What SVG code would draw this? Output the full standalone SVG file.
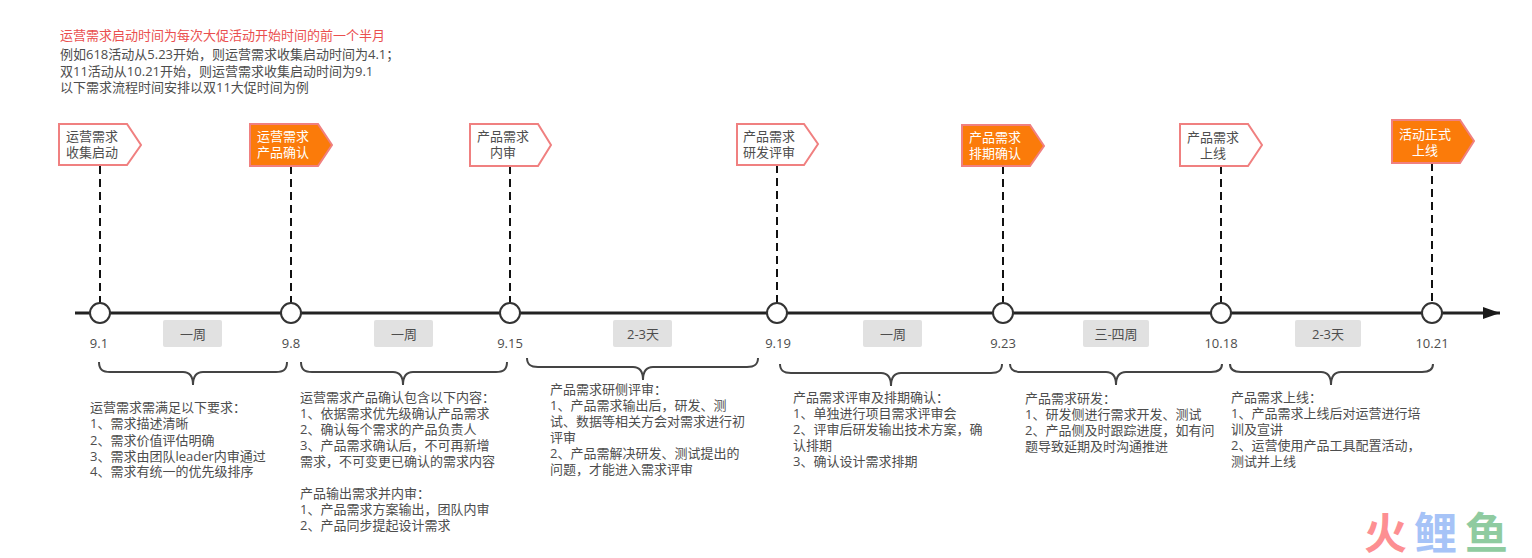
<svg xmlns="http://www.w3.org/2000/svg" width="1532" height="558" viewBox="0 0 1532 558">
<defs>
<marker id="ah" markerUnits="userSpaceOnUse" markerWidth="18" markerHeight="14" refX="17" refY="7" orient="auto"><path d="M0 1L17 7L0 13Z" fill="#1a1a1a"/></marker>
</defs>
<style>
text{font-family:"Open Sans","Noto Sans CJK SC",sans-serif;font-size:13px;fill:#4d4d4d}
.m{text-anchor:middle}
.box{fill:#fff;stroke:#f08080;stroke-width:2}
.hot{fill:#fb7b0a;stroke:#f08080;stroke-width:2}
.w{fill:#fff}
.dash{fill:none;stroke:#111;stroke-width:2;stroke-dasharray:8 5}
.brace{fill:none;stroke:#444;stroke-width:2}
.dot{fill:#fff;stroke:#333;stroke-width:2}
.dur{fill:#e1e1e1}
.wm{font-size:43px;font-weight:700;font-family:"Noto Sans CJK SC",sans-serif}
</style>
<rect width="1532" height="558" fill="#fff"/>
<g id="intro">
<text x="60" y="40" style="fill:#ea4f4f">运营需求启动时间为每次大促活动开始时间的前一个半月</text>
<text x="60" y="59">例如618活动从5.23开始，则运营需求收集启动时间为4.1；</text>
<text x="60" y="76">双11活动从10.21开始，则运营需求收集启动时间为9.1</text>
<text x="60" y="92">以下需求流程时间安排以双11大促时间为例</text>
</g>
<g id="connectors">
<path d="M75 313H1432" fill="none" stroke="#222" stroke-width="3"/>
<path d="M1432 313H1500" fill="none" stroke="#222" stroke-width="3" marker-end="url(#ah)"/>
<path class="dash" d="M100 166V303"/>
<path class="dash" d="M291 166V303"/>
<path class="dash" d="M510 166V303"/>
<path class="dash" d="M777 165V303"/>
<path class="dash" d="M1003 166V303"/>
<path class="dash" d="M1221 166V303"/>
<path class="dash" d="M1432 163V303"/>
<path class="brace" d="M99 362C99 370 103 372 110 372H183C189 372 193 376 193 385C193 376 197 372 203 372H276C283 372 287 370 287 362"/>
<path class="brace" d="M301 362C301 370 305 372 312 372H393C399 372 403 376 403 385C403 376 407 372 413 372H496C503 372 507 370 507 362"/>
<path class="brace" d="M527 358C527 365 531 367 538 367H633C639 367 643 371 643 380C643 371 647 367 653 367H747C754 367 758 365 758 358"/>
<path class="brace" d="M780 364C780 371 784 373 791 373H881C887 373 891 377 891 386C891 377 895 373 901 373H991C998 373 1002 371 1002 364"/>
<path class="brace" d="M1010 364C1010 370 1014 372 1021 372H1106C1112 372 1116 376 1116 385C1116 376 1120 372 1126 372H1211C1218 372 1222 370 1222 364"/>
<path class="brace" d="M1230 364C1230 370 1234 372 1241 372H1321C1327 372 1331 376 1331 385C1331 376 1335 372 1341 372H1422C1429 372 1433 370 1433 364"/>
</g>
<g id="n1"><path class="box" d="M59 124H127L141 145L127 165H59Z"/><text x="66" y="141">运营需求</text><text x="66" y="157">收集启动</text></g>
<g id="n2"><path class="hot" d="M250 124H318L332 145L318 166H250Z"/><text class="w" x="257" y="141">运营需求</text><text class="w" x="257" y="157">产品确认</text></g>
<g id="n3"><path class="box" d="M470 124H538L551 145L538 166H470Z"/><text x="477" y="141">产品需求</text><text x="490" y="157">内审</text></g>
<g id="n4"><path class="box" d="M737 124H804L818 144L804 165H737Z"/><text x="743" y="141">产品需求</text><text x="743" y="157">研发评审</text></g>
<g id="n5"><path class="hot" d="M962 125H1030L1044 146L1030 166H962Z"/><text class="w" x="969" y="142">产品需求</text><text class="w" x="969" y="158">排期确认</text></g>
<g id="n6"><path class="box" d="M1180 124H1248L1262 145L1248 166H1180Z"/><text x="1187" y="142">产品需求</text><text x="1200" y="158">上线</text></g>
<g id="n7"><path class="hot" d="M1392 120H1460L1474 141L1460 163H1392Z"/><text class="w" x="1399" y="139">活动正式</text><text class="w" x="1412" y="155">上线</text></g>
<g id="dates">
<circle class="dot" cx="100" cy="313" r="10"/><text class="m" x="99" y="348">9.1</text>
<circle class="dot" cx="291" cy="313" r="10"/><text class="m" x="291" y="348">9.8</text>
<circle class="dot" cx="510" cy="313" r="10"/><text class="m" x="510" y="348">9.15</text>
<circle class="dot" cx="777" cy="313" r="10"/><text class="m" x="778" y="348">9.19</text>
<circle class="dot" cx="1003" cy="313" r="10"/><text class="m" x="1003" y="348">9.23</text>
<circle class="dot" cx="1221" cy="313" r="10"/><text class="m" x="1221" y="348">10.18</text>
<circle class="dot" cx="1432" cy="313" r="10"/><text class="m" x="1432" y="348">10.21</text>
</g>
<g id="durations">
<rect class="dur" x="163" y="320" width="59" height="27" rx="2"/><text class="m" x="193" y="339">一周</text>
<rect class="dur" x="374" y="320" width="59" height="27" rx="2"/><text class="m" x="404" y="339">一周</text>
<rect class="dur" x="613" y="320" width="59" height="27" rx="2"/><text class="m" x="643" y="339">2-3天</text>
<rect class="dur" x="863" y="320" width="59" height="27" rx="2"/><text class="m" x="893" y="339">一周</text>
<rect class="dur" x="1083" y="320" width="66" height="27" rx="2"/><text class="m" x="1116" y="339">三-四周</text>
<rect class="dur" x="1295" y="320" width="66" height="27" rx="2"/><text class="m" x="1328" y="339">2-3天</text>
</g>
<g id="notes">
<text x="90" y="412">运营需求需满足以下要求：</text>
<text x="90" y="428">1、需求描述清晰</text>
<text x="90" y="445">2、需求价值评估明确</text>
<text x="90" y="461">3、需求由团队leader内审通过</text>
<text x="90" y="476">4、需求有统一的优先级排序</text>
<text x="300" y="402">运营需求产品确认包含以下内容：</text>
<text x="300" y="418">1、依据需求优先级确认产品需求</text>
<text x="300" y="434">2、确认每个需求的产品负责人</text>
<text x="300" y="450">3、产品需求确认后，不可再新增</text>
<text x="300" y="466">需求，不可变更已确认的需求内容</text>
<text x="300" y="498">产品输出需求并内审：</text>
<text x="300" y="514">1、产品需求方案输出，团队内审</text>
<text x="300" y="530">2、产品同步提起设计需求</text>
<text x="550" y="394">产品需求研侧评审：</text>
<text x="550" y="410">1、产品需求输出后，研发、测</text>
<text x="550" y="426">试、数据等相关方会对需求进行初</text>
<text x="550" y="442">评审</text>
<text x="550" y="458">2、产品需解决研发、测试提出的</text>
<text x="550" y="474">问题，才能进入需求评审</text>
<text x="793" y="402">产品需求评审及排期确认：</text>
<text x="793" y="418">1、单独进行项目需求评审会</text>
<text x="793" y="434">2、评审后研发输出技术方案，确</text>
<text x="793" y="450">认排期</text>
<text x="793" y="466">3、确认设计需求排期</text>
<text x="1025" y="403">产品需求研发：</text>
<text x="1025" y="419">1、研发侧进行需求开发、测试</text>
<text x="1025" y="435">2、产品侧及时跟踪进度，如有问</text>
<text x="1025" y="451">题导致延期及时沟通推进</text>
<text x="1231" y="402">产品需求上线：</text>
<text x="1231" y="418">1、产品需求上线后对运营进行培</text>
<text x="1231" y="434">训及宣讲</text>
<text x="1231" y="450">2、运营使用产品工具配置活动，</text>
<text x="1231" y="466">测试并上线</text>
</g>
<g id="watermark">
<text class="wm" x="1364" y="549" style="fill:#fd8f92">火</text>
<text class="wm" x="1414" y="549" style="fill:#a6c3f7">鲤</text>
<text class="wm" x="1465" y="549" style="fill:#8fcba0">鱼</text>
</g>
</svg>
